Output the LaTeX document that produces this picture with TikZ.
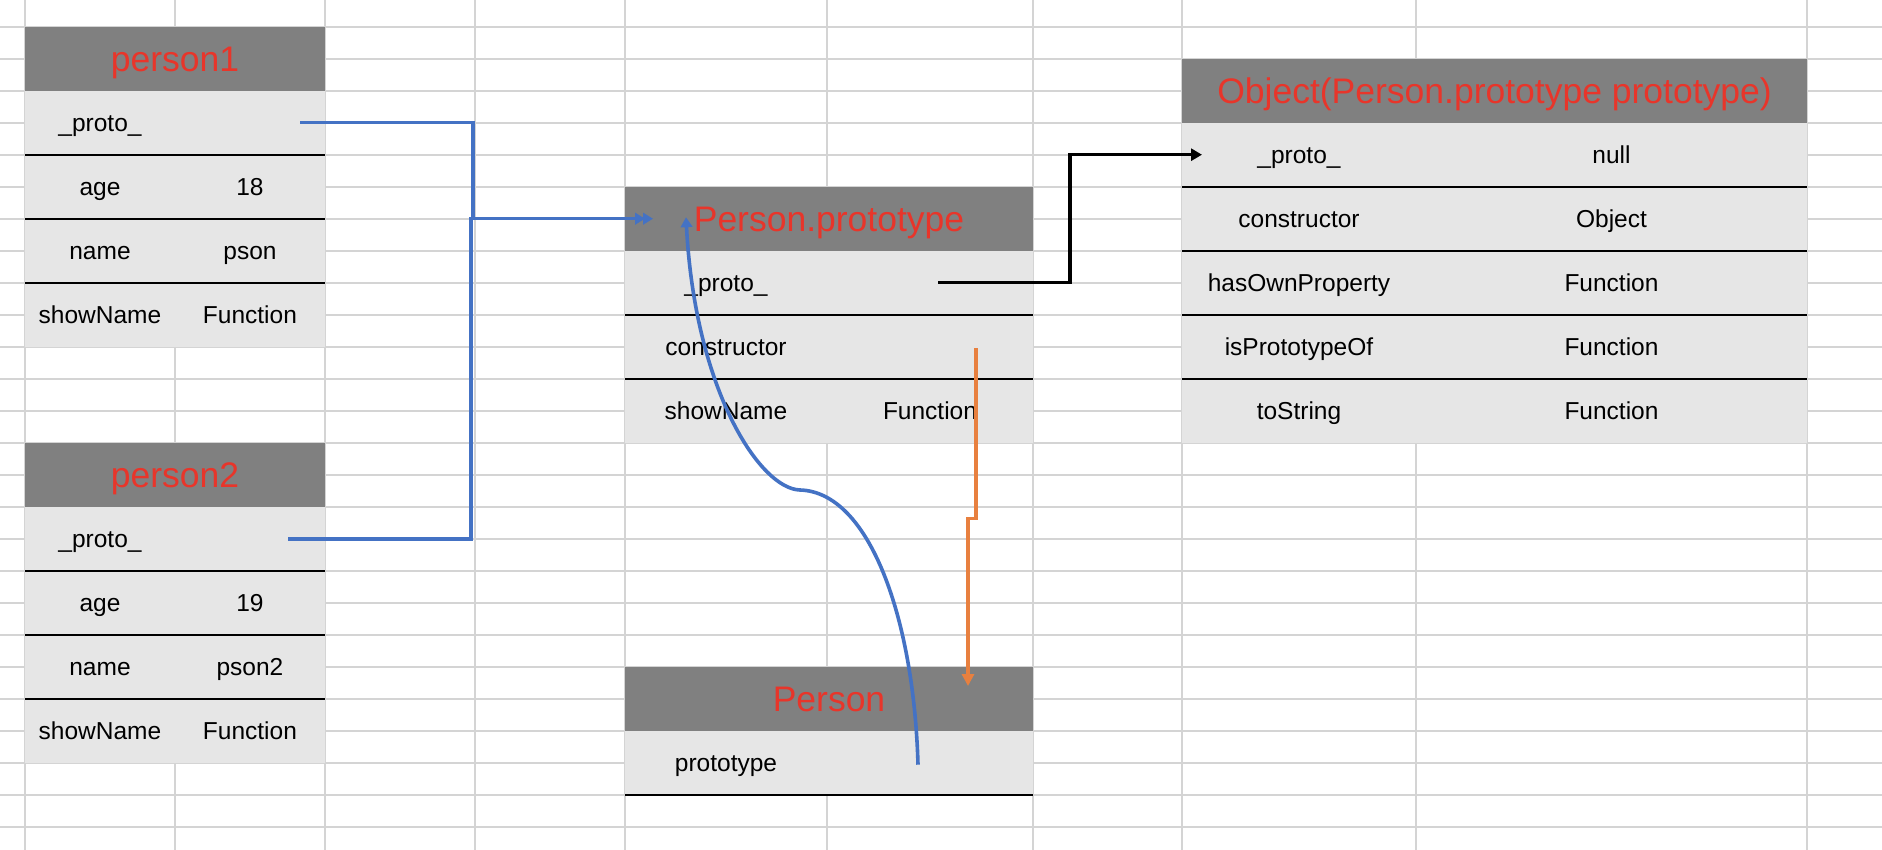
\documentclass[tikz,border=0pt]{standalone}
\usepackage{fontspec}
\setmainfont{Liberation Sans}
\usetikzlibrary{arrows.meta,calc}
\definecolor{gridc}{HTML}{D4D4D4}
\definecolor{hdrg}{HTML}{808080}
\definecolor{cellg}{HTML}{E6E6E6}
\definecolor{hdrred}{HTML}{E8352A}
\definecolor{lnblue}{HTML}{4472C4}
\definecolor{lnorange}{HTML}{E8803F}
\newcommand{\bodyf}{\fontsize{24.5}{29}\selectfont}
\newcommand{\hdrf}{\fontsize{35.5}{42}\selectfont}
\newcommand{\twocol}[4]{\makebox[#1pt]{#3}\makebox[#2pt]{#4}}
\begin{document}
\begin{tikzpicture}[x=1pt,y=-1pt,
  gridline/.style={draw=gridc,line width=2pt},
  hdr/.style={fill=hdrg,text=hdrred,font=\hdrf,inner sep=0pt,outer sep=0pt,minimum height=64pt,text height=25.5pt,text depth=0pt},
  row/.style={fill=cellg,font=\bodyf,inner sep=0pt,outer sep=0pt,minimum height=64pt,text height=17.6pt,text depth=0pt},
  sepline/.style={draw=black,line width=2pt},
  blink/.style={draw=lnblue,line width=3.6pt,-{Triangle[length=10pt,width=11.5pt]}},
  klink/.style={draw=black,line width=3.6pt,-{Triangle[length=11pt,width=12pt]}},
  olink/.style={draw=lnorange,line width=3.4pt,-{Triangle[length=12pt,width=12pt]}}
]
\fill[white] (0,0) rectangle (1882,850);
\useasboundingbox (0,0) rectangle (1882,850);
% spreadsheet grid
\foreach \k in {0,...,25} \draw[gridline] (0,{26.7+32*\k}) -- (1882,{26.7+32*\k});
\foreach \x in {25,175,325,475,625,827,1033,1182,1416,1807} \draw[gridline] (\x,0) -- (\x,850);

% person1
\node[hdr,minimum width=300pt] (p1h) at (175,58.7) {person1};
\node[row] (p1proto) at (175,122.7) {\twocol{150}{150}{\_proto\_}{}};
\node[row] (p1age) at (175,186.7) {\twocol{150}{150}{age}{18}};
\node[row] (p1name) at (175,250.7) {\twocol{150}{150}{name}{pson}};
\node[row] (p1show) at (175,314.7) {\twocol{150}{150}{showName}{Function}};

% person2
\node[hdr,minimum width=300pt] (p2h) at (175,474.7) {person2};
\node[row] (p2proto) at (175,538.7) {\twocol{150}{150}{\_proto\_}{}};
\node[row] (p2age) at (175,602.7) {\twocol{150}{150}{age}{19}};
\node[row] (p2name) at (175,666.7) {\twocol{150}{150}{name}{pson2}};
\node[row] (p2show) at (175,730.7) {\twocol{150}{150}{showName}{Function}};

% Person.prototype
\node[hdr,minimum width=408pt] (pph) at (829,218.7) {Person.prototype};
\node[row] (ppproto) at (829,282.7) {\twocol{202}{206}{\_proto\_}{}};
\node[row] (ppcons) at (829,346.7) {\twocol{202}{206}{constructor}{}};
\node[row] (ppshow) at (829,410.7) {\twocol{202}{206}{showName}{Function}};

% Object
\node[hdr,minimum width=625pt] (objh) at (1494.5,90.7) {Object(Person.prototype prototype)};
\node[row] (objproto) at (1494.5,154.7) {\twocol{234}{391}{\_proto\_}{null}};
\node[row] (objcons) at (1494.5,218.7) {\twocol{234}{391}{constructor}{Object}};
\node[row] (objhas) at (1494.5,282.7) {\twocol{234}{391}{hasOwnProperty}{Function}};
\node[row] (objisp) at (1494.5,346.7) {\twocol{234}{391}{isPrototypeOf}{Function}};
\node[row] (objts) at (1494.5,410.7) {\twocol{234}{391}{toString}{Function}};

% Person
\node[hdr,minimum width=408pt] (perh) at (829,698.7) {Person};
\node[row] (perproto) at (829,762.7) {\twocol{202}{206}{prototype}{}};

% row separators
\foreach \n in {p1proto,p1age,p1name,p2proto,p2age,p2name,ppproto,ppcons,objproto,objcons,objhas,objisp,perproto}
  \draw[sepline] (\n.south west) -- (\n.south east);

% connectors
\draw[blink] ([xshift=-25pt]p1proto.east) -- ++(173,0) |- ([xshift=28pt]pph.west);
\draw[blink] ([xshift=-37pt]p2proto.east) -- ++(183,0) |- ([xshift=20pt]pph.west);
\draw[klink] ([xshift=-95pt]ppproto.east) -- ++(132,0) |- ([xshift=20pt]objproto.west);
\draw[olink] ([xshift=-57pt,yshift=-1.5pt]ppcons.east) -- ++(0,170) -| ([xshift=-65pt,yshift=12.7pt]perh.east);
\coordinate (bend) at (800,490);
\draw[blink] ([xshift=-115pt,yshift=-2pt]perproto.east) .. controls (914,620) and (870,492) .. (bend) .. controls (760,489) and (695,390) .. ([xshift=61pt,yshift=1.5pt]pph.west);
\end{tikzpicture}
\end{document}
